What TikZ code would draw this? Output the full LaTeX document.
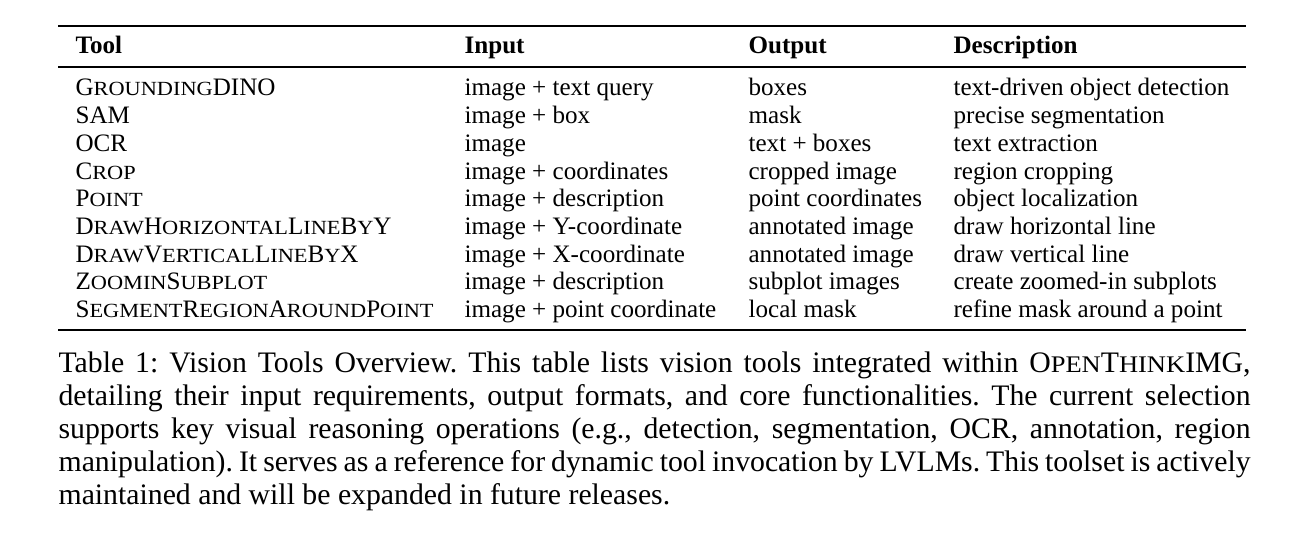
\documentclass[tikz,border=0pt]{standalone}
\usepackage{fontspec}
\setmainfont{Liberation Serif}
\usepackage{graphicx}

\newcommand{\fsc}[1]{\scalebox{0.89}[0.8]{#1}}

\begin{document}
\frenchspacing
\begin{tikzpicture}[x=0.336pt, y=-0.336pt,
    cell/.style = {anchor=base west, inner sep=0pt, font=\fontsize{8.43}{9.3}\selectfont},
    head/.style = {cell, font=\fontsize{8.43}{9.3}\selectfont\bfseries},
    toprule/.style = {line width=0.85pt},
    midrule/.style = {line width=0.55pt}]
    \useasboundingbox (0,0) rectangle (1301,542);

    % rules
    \coordinate (r1l) at (58,26);  \coordinate (r1r) at (1246,26);
    \coordinate (r2l) at (58,67);  \coordinate (r2r) at (1246,67);
    \coordinate (r3l) at (58,330); \coordinate (r3r) at (1246,330);
    \draw[toprule] (r1l) -- (r1r);
    \draw[midrule] (r2l) -- (r2r);
    \draw[toprule] (r3l) -- (r3r);

    % header
    \node[head] (h1) at (75,54) {Tool};
    \node[head] (h2) at (464,54) {Input};
    \node[head] (h3) at (748,54) {Output};
    \node[head] (h4) at (953,54) {Description};

    % rows
    \node[cell] (t1) at (75,96) {G\fsc{ROUNDING}DINO};
    \node[cell] (i1) at (464,96) {image + text query};
    \node[cell] (o1) at (748,96) {boxes};
    \node[cell] (d1) at (953,96) {text-driven object detection};

    \node[cell] (t2) at (75,123.7) {SAM};
    \node[cell] (i2) at (464,123.7) {image + box};
    \node[cell] (o2) at (748,123.7) {mask};
    \node[cell] (d2) at (953,123.7) {precise segmentation};

    \node[cell] (t3) at (75,151.4) {OCR};
    \node[cell] (i3) at (464,151.4) {image};
    \node[cell] (o3) at (748,151.4) {text + boxes};
    \node[cell] (d3) at (953,151.4) {text extraction};

    \node[cell] (t4) at (75,179.1) {C\fsc{ROP}};
    \node[cell] (i4) at (464,179.1) {image + coordinates};
    \node[cell] (o4) at (748,179.1) {cropped image};
    \node[cell] (d4) at (953,179.1) {region cropping};

    \node[cell] (t5) at (75,206.8) {P\fsc{OINT}};
    \node[cell] (i5) at (464,206.8) {image + description};
    \node[cell] (o5) at (748,206.8) {point coordinates};
    \node[cell] (d5) at (953,206.8) {object localization};

    \node[cell] (t6) at (75,234.5) {D\fsc{RAW}H\fsc{ORIZONTAL}L\fsc{INE}B\fsc{Y}Y};
    \node[cell] (i6) at (464,234.5) {image + Y-coordinate};
    \node[cell] (o6) at (748,234.5) {annotated image};
    \node[cell] (d6) at (953,234.5) {draw horizontal line};

    \node[cell] (t7) at (75,262.2) {D\fsc{RAW}V\fsc{ERTICAL}L\fsc{INE}B\fsc{Y}X};
    \node[cell] (i7) at (464,262.2) {image + X-coordinate};
    \node[cell] (o7) at (748,262.2) {annotated image};
    \node[cell] (d7) at (953,262.2) {draw vertical line};

    \node[cell] (t8) at (75,289.9) {Z\fsc{OOMIN}S\fsc{UBPLOT}};
    \node[cell] (i8) at (464,289.9) {image + description};
    \node[cell] (o8) at (748,289.9) {subplot images};
    \node[cell] (d8) at (953,289.9) {create zoomed-in subplots};

    \node[cell] (t9) at (75,317.6) {S\fsc{EGMENT}R\fsc{EGION}A\fsc{ROUND}P\fsc{OINT}};
    \node[cell] (i9) at (464,317.6) {image + point coordinate};
    \node[cell] (o9) at (748,317.6) {local mask};
    \node[cell] (d9) at (953,317.6) {refine mask around a point};

    % caption
    \node[anchor=north west, inner sep=0pt, text width=400.5pt, align=justify,
          font=\fontsize{10}{11.1}\selectfont] (cap) at (58,349)
        {\strut Table 1: Vision Tools Overview. This table lists vision tools integrated within O\fsc{PEN}T\fsc{HINK}IMG, detailing their input requirements, output formats, and core functionalities. The current selection supports key visual reasoning operations (e.g., detection, segmentation, OCR, annotation, region\linebreak manipulation). It serves as a reference for dynamic tool invocation by LVLMs. This toolset is actively\linebreak maintained and will be expanded in future releases.};
\end{tikzpicture}
\end{document}
